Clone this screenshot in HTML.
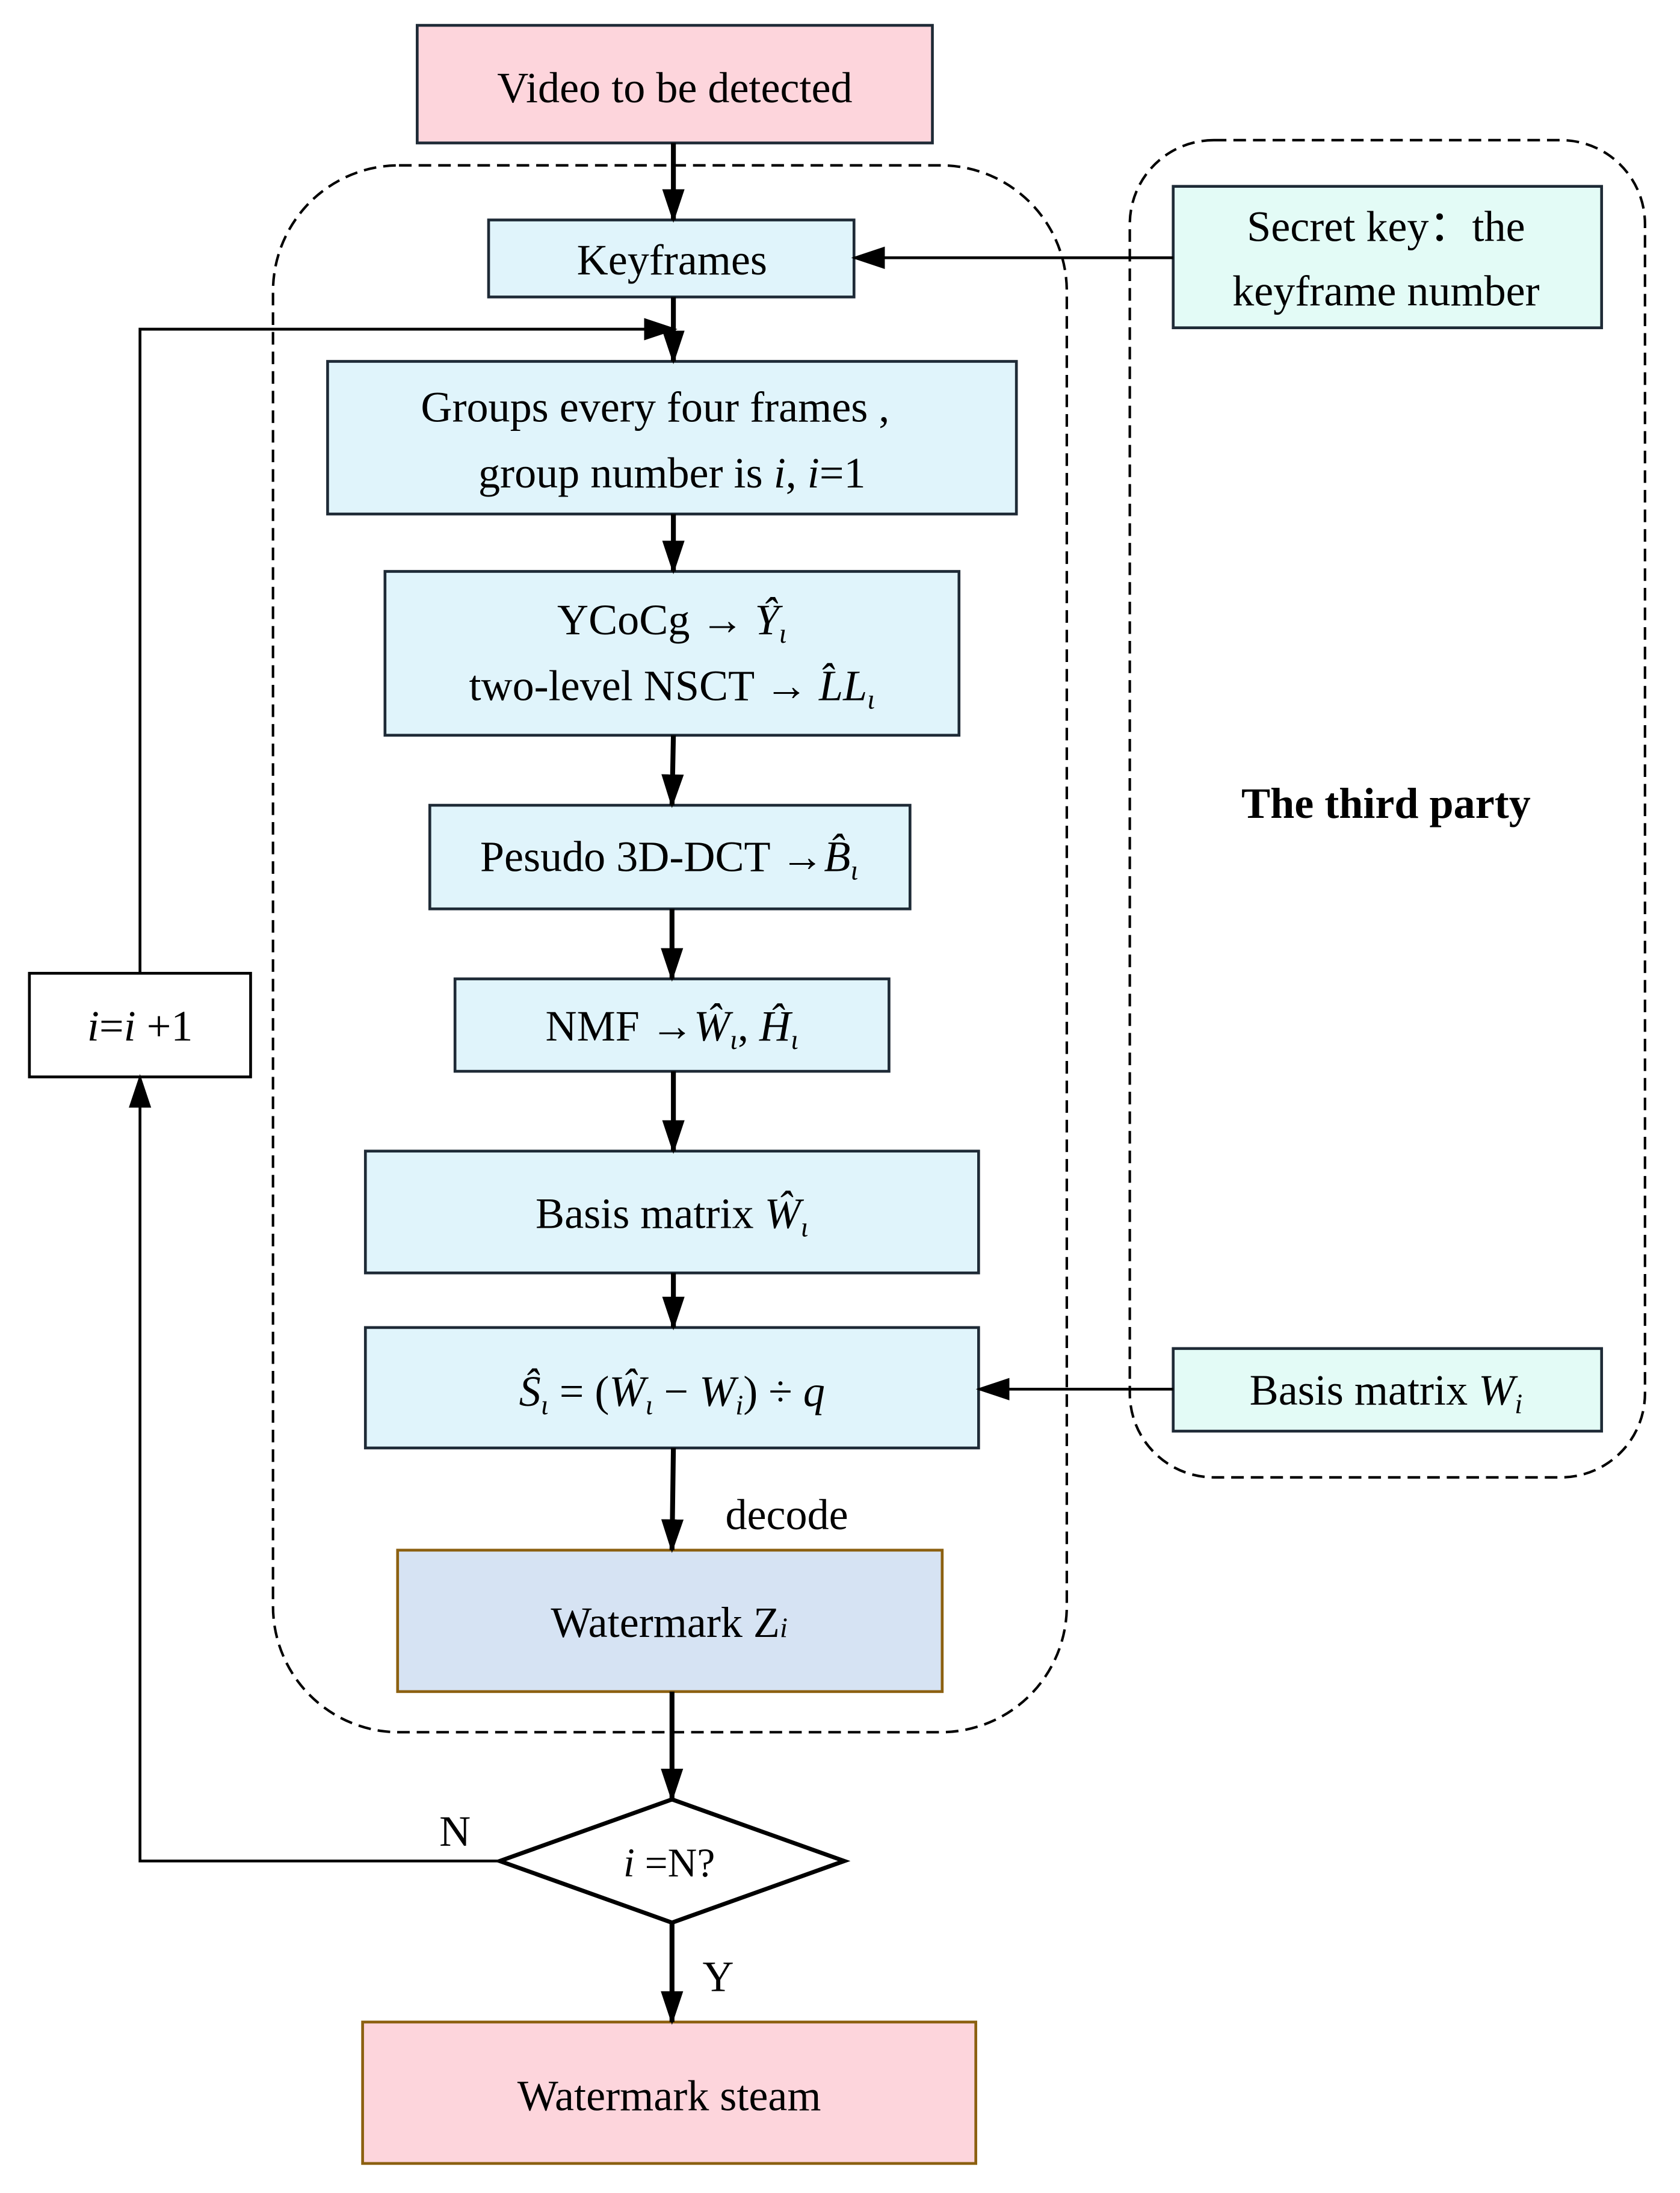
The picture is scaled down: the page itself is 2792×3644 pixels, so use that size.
<!DOCTYPE html>
<html><head><meta charset="utf-8"><style>
html,body{margin:0;padding:0;background:#fff;}
svg{display:block;}
text{font-family:"Liberation Serif",serif;fill:#000;}
</style></head><body>
<svg width="2792" height="3644" viewBox="0 0 1200 1566" xmlns="http://www.w3.org/2000/svg">
<defs>
<marker id="b" markerWidth="24" markerHeight="24" refX="22" refY="12" orient="auto" markerUnits="userSpaceOnUse" viewBox="0 0 24 24">
<path d="M0,4 L24,12 L0,20 z" fill="#000"/></marker>
</defs>
<rect width="1200" height="1566" fill="#fff"/>
<rect x="195" y="118" width="567" height="1119" rx="90" fill="none" stroke="#000" stroke-width="1.8" stroke-dasharray="9,5"/>
<rect x="807" y="100" width="368" height="955" rx="60" fill="none" stroke="#000" stroke-width="1.8" stroke-dasharray="9,5"/>
<g stroke="#1e2a36" stroke-width="2">
<rect x="298" y="18" width="368" height="84" fill="#fdd5dc"/>
<rect x="349" y="157" width="261" height="55" fill="#e0f4fb"/>
<rect x="838" y="133" width="306" height="101" fill="#e3fbf6"/>
<rect x="234" y="258" width="492" height="109" fill="#e0f4fb"/>
<rect x="275" y="408" width="410" height="117" fill="#e0f4fb"/>
<rect x="307" y="575" width="343" height="74" fill="#e0f4fb"/>
<rect x="325" y="699" width="310" height="66" fill="#e0f4fb"/>
<rect x="261" y="822" width="438" height="87" fill="#e0f4fb"/>
<rect x="261" y="948" width="438" height="86" fill="#e0f4fb"/>
<rect x="838" y="963" width="306" height="59" fill="#e3fbf6"/>
<rect x="21" y="695" width="158" height="74" fill="#fff" stroke="#000"/>
</g>
<rect x="284" y="1107" width="389" height="101" fill="#d6e3f3" stroke="#8c6010" stroke-width="2"/>
<rect x="259" y="1444" width="438" height="101" fill="#fdd5dc" stroke="#8c6010" stroke-width="2"/>
<polygon points="357,1329 480,1285 603,1329 480,1373" fill="#fff" stroke="#000" stroke-width="3"/>
<g stroke="#000" stroke-width="3.5" fill="none">
<line x1="481" y1="102" x2="481" y2="157" marker-end="url(#b)"/>
<line x1="481" y1="212" x2="481" y2="258" marker-end="url(#b)"/>
<line x1="481" y1="367" x2="481" y2="408" marker-end="url(#b)"/>
<line x1="481" y1="525" x2="480" y2="575" marker-end="url(#b)"/>
<line x1="480" y1="649" x2="480" y2="699" marker-end="url(#b)"/>
<line x1="481" y1="765" x2="481" y2="822" marker-end="url(#b)"/>
<line x1="481" y1="909" x2="481" y2="948" marker-end="url(#b)"/>
<line x1="481" y1="1034" x2="480" y2="1107" marker-end="url(#b)"/>
<line x1="480" y1="1208" x2="480" y2="1285" marker-end="url(#b)"/>
<line x1="480" y1="1373" x2="480" y2="1444" marker-end="url(#b)"/>
</g>
<g stroke="#000" stroke-width="2" fill="none">
<line x1="838" y1="184" x2="610" y2="184" marker-end="url(#b)"/>
<line x1="838" y1="992" x2="699" y2="992" marker-end="url(#b)"/>
<polyline points="100,695 100,235 482,235" marker-end="url(#b)"/>
<polyline points="357,1329 100,1329 100,769" marker-end="url(#b)"/>
</g>
<g font-size="31" text-anchor="middle">
<text x="482" y="73">Video to be detected</text>
<text x="480" y="196">Keyframes</text>
<text x="990" y="172">Secret key：the</text>
<text x="990" y="218">keyframe number</text>
<text x="468" y="301">Groups every four frames  ,</text>
<text x="480" y="348">group number is <tspan font-style="italic">i</tspan>, <tspan font-style="italic">i</tspan>=1</text>
<text x="480" y="453">YCoCg → <tspan font-style="italic">Ŷ</tspan><tspan font-style="italic" font-size="20" dy="6">ι</tspan></text>
<text x="480" y="500">two-level NSCT → <tspan font-style="italic">L̂L</tspan><tspan font-style="italic" font-size="20" dy="6">ι</tspan></text>
<text x="478" y="622">Pesudo 3D-DCT →<tspan font-style="italic">B̂</tspan><tspan font-style="italic" font-size="20" dy="6">ι</tspan></text>
<text x="480" y="743">NMF →<tspan font-style="italic">Ŵ</tspan><tspan font-style="italic" font-size="20" dy="6">ι</tspan><tspan dy="-6">, </tspan><tspan font-style="italic">Ĥ</tspan><tspan font-style="italic" font-size="20" dy="6">ι</tspan></text>
<text x="480" y="877">Basis matrix  <tspan font-style="italic">Ŵ</tspan><tspan font-style="italic" font-size="20" dy="6">ι</tspan></text>
<text x="480" y="1004"><tspan font-style="italic">Ŝ</tspan><tspan font-style="italic" font-size="20" dy="6">ι</tspan><tspan dy="-6"> = (</tspan><tspan font-style="italic">Ŵ</tspan><tspan font-style="italic" font-size="20" dy="6">ι</tspan><tspan dy="-6"> − </tspan><tspan font-style="italic">W</tspan><tspan font-style="italic" font-size="20" dy="6">i</tspan><tspan dy="-6">) ÷ </tspan><tspan font-style="italic">q</tspan></text>
<text x="990" y="1003">Basis matrix  <tspan font-style="italic">W</tspan><tspan font-style="italic" font-size="20" dy="6">i</tspan></text>
<text x="478" y="1169">Watermark Z<tspan font-style="italic" font-size="20">i</tspan></text>
<text x="478" y="1507">Watermark steam</text>
<text x="100" y="743"><tspan font-style="italic">i</tspan>=<tspan font-style="italic">i</tspan> +1</text>
<text x="478" y="1340" font-size="29"><tspan font-style="italic">i</tspan> =N?</text>
<text x="990" y="584" font-weight="bold">The third party</text>
<text x="562" y="1092">decode</text>
<text x="325" y="1318">N</text>
<text x="513" y="1422">Y</text>
</g>
</svg>
</body></html>
